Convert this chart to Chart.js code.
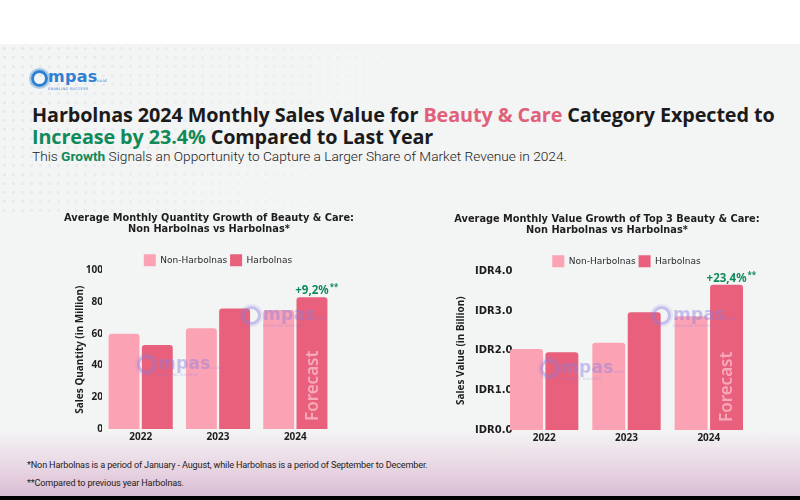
<!DOCTYPE html>
<html>
<head>
<meta charset="utf-8">
<script src="https://cdn.jsdelivr.net/npm/chart.js@4.4.1/dist/chart.umd.min.js"></script>
<style>
  html, body { margin: 0; padding: 0; }
  body {
    width: 800px; height: 500px; position: relative; overflow: hidden;
    background: #fff; font-family: 'Noto Sans', sans-serif; color: #1e1e1e;
  }
  #panel {
    position: absolute; left: 0; top: 44px; width: 800px; height: 452px;
    background: linear-gradient(to bottom, #f3f4f4 0px, #f3f4f4 386px, #ead9e5 420px, #d9bdd4 452px);
  }
  #dots {
    position: absolute; left: 0; top: 44px; width: 520px; height: 170px;
    background-image: radial-gradient(circle, #e4e7ea 1.2px, transparent 1.7px);
    background-size: 9px 9px;
    -webkit-mask-image: linear-gradient(120deg, #000 0%, rgba(0,0,0,0.5) 40%, transparent 75%);
    mask-image: linear-gradient(120deg, #000 0%, rgba(0,0,0,0.5) 40%, transparent 75%);
  }
  #bottomBar { position: absolute; left: 0; top: 496px; width: 800px; height: 4px; background: #000; }
  .logo { position: absolute; color: #2f80d2; font-family: 'DejaVu Sans', sans-serif; }
  .logo .ring {
    position: absolute; left: 0; top: 0; width: 11px; height: 11px; border-radius: 50%;
    border: 3px solid #2f80d2; box-shadow: 0 0 0 2px rgba(47,128,210,0.35);
  }
  .logo .word { position: absolute; left: 17px; top: -3px; font-size: 16px; font-weight: bold; letter-spacing: 0.3px; }
  .logo .tld { position: absolute; left: 66px; top: 8px; font-size: 4px; }
  .logo .tag { position: absolute; left: 17px; top: 17px; font-size: 3.5px; letter-spacing: 0.3px; white-space: nowrap; }
  .wm { opacity: 0.45; color: #8a7fe0; }
  .wm .ring { width: 13px; height: 13px; border-width: 3.5px; border-color: #8a7fe0; box-shadow: 0 0 0 2px rgba(138,127,224,0.3); }
  .wm .word { left: 21px; top: -2px; font-size: 17px; }
  .wm .tld { left: 74px; top: 10px; }
  .wm .tag { left: 21px; top: 18px; }
  #title {
    position: absolute; left: 32px; top: 104px; margin: 0;
    font-family: 'Open Sans', sans-serif; font-weight: 700; font-size: 19.8px; line-height: 22px;
    letter-spacing: -0.1px; color: #1b1b1b; white-space: nowrap;
  }
  #subtitle {
    position: absolute; left: 32px; top: 148px; margin: 0;
    font-family: 'Roboto', sans-serif; font-size: 13.7px; font-weight: 300; color: #1b1b1b; white-space: nowrap;
  }
  .pink { color: #e0607a; }
  .green { color: #0f8a5a; }
  #subtitle .green { font-weight: 700; }
  .notes {
    position: absolute; left: 27px; margin: 0; font-family: 'Roboto', sans-serif;
    font-size: 9.1px; color: #222; white-space: nowrap; letter-spacing: -0.15px;
  }
  .box { position: absolute; }
</style>
</head>
<body>
<div id="panel"></div>
<div id="dots"></div>
<div id="bottomBar"></div>

<div class="logo" style="left:31px; top:70px;">
  <div class="ring"></div>
  <div class="word">mpas</div>
  <div class="tld">co.id</div>
  <div class="tag">ENABLING SUCCESS</div>
</div>

<h1 id="title">Harbolnas 2024 Monthly Sales Value for <span class="pink">Beauty &amp; Care</span> Category Expected to<br><span class="green">Increase by 23.4%</span> Compared to Last Year</h1>
<p id="subtitle">This <span class="green">Growth</span> Signals an Opportunity to Capture a Larger Share of Market Revenue in 2024.</p>

<div class="box" style="left:55px; top:205px; width:310px; height:240px;"><canvas id="qtyChart"></canvas></div>
<div class="box" style="left:445px; top:206px; width:330px; height:240px;"><canvas id="valueChart"></canvas></div>

<div class="logo wm" style="left:137px; top:355px;"><div class="ring"></div><div class="word">mpas</div><div class="tld">co.id</div><div class="tag">ENABLING SUCCESS</div></div>
<div class="logo wm" style="left:242px; top:306px;"><div class="ring"></div><div class="word">mpas</div><div class="tld">co.id</div><div class="tag">ENABLING SUCCESS</div></div>
<div class="logo wm" style="left:540px; top:359px;"><div class="ring"></div><div class="word">mpas</div><div class="tld">co.id</div><div class="tag">ENABLING SUCCESS</div></div>
<div class="logo wm" style="left:652px; top:306px;"><div class="ring"></div><div class="word">mpas</div><div class="tld">co.id</div><div class="tag">ENABLING SUCCESS</div></div>

<p class="notes" style="top:460px;">*Non Harbolnas is a period of January - August, while Harbolnas is a period of September to December.</p>
<p class="notes" style="top:478px;">**Compared to previous year Harbolnas.</p>

<script>
// chart data
const years = ['2022', '2023', '2024'];
const seriesNames = ['Non-Harbolnas', 'Harbolnas'];

const qtyNon = [60, 63.5, 75];
const qtyHarb = [53, 76, 83];
const qtyTicks = [0, 20, 40, 60, 80, 100];

const valueNon = [2.04, 2.2, 2.87];
const valueHarb = [1.96, 2.97, 3.66];
const valueTicks = [0, 1, 2, 3, 4];

const growthLabels = ['+9,2%', '+23,4%'];

const lightPink = '#fba2b4';
const darkPink = '#e8607b';
const green = '#0f8a5a';
const textColor = '#1e1e1e';
const fontFamily = "'Noto Sans', sans-serif";
const wideFont = "'DejaVu Sans', sans-serif";

// title spans (nearly) the whole canvas so it is not squeezed, legend is centred over the plot
const headerBoxes = {
  id: 'headerBoxes',
  afterLayout(chart, args, opts) {
    chart.titleBlock.left = opts.titleLeft;
    chart.titleBlock.right = chart.width - opts.titleRight;
    chart.legend.left = chart.chartArea.left;
    chart.legend.right = chart.chartArea.right;
  }
};

// growth label above the forecast bar and the vertical "Forecast" word inside it
const forecastNotes = {
  id: 'forecastNotes',
  afterDatasetsDraw(chart, args, opts) {
    const ctx = chart.ctx;
    const bar = chart.getDatasetMeta(1).data[2];
    ctx.save();
    ctx.fillStyle = green;
    ctx.font = 'bold 11.5px ' + fontFamily;
    ctx.textAlign = 'center';
    ctx.textBaseline = 'alphabetic';
    ctx.fillText(opts.label, bar.x, bar.y - 3);
    const w = ctx.measureText(opts.label).width;
    ctx.font = 'bold 8px ' + fontFamily;
    ctx.textAlign = 'left';
    ctx.fillText('**', bar.x + w / 2 + 1, bar.y - 7);

    ctx.translate(bar.x, bar.base - 8);
    ctx.rotate(-Math.PI / 2);
    ctx.fillStyle = '#f7a9b9';
    ctx.font = '600 17px ' + fontFamily;
    ctx.textAlign = 'left';
    ctx.textBaseline = 'middle';
    ctx.fillText('Forecast', 0, 1);
    ctx.restore();
  }
};

function makeChart(id, cfg) {
  return new Chart(document.getElementById(id), {
    type: 'bar',
    data: {
      labels: years,
      datasets: [
        { label: seriesNames[0], data: cfg.non, backgroundColor: lightPink, borderRadius: 3 },
        { label: seriesNames[1], data: cfg.harb, backgroundColor: darkPink, borderRadius: 3 }
      ]
    },
    options: {
      responsive: true,
      maintainAspectRatio: false,
      animation: false,
      categoryPercentage: 0.86,
      barPercentage: 0.93,
      layout: { padding: { top: 7, right: cfg.padRight, left: cfg.padLeft, bottom: 0 } },
      plugins: {
        title: {
          display: true,
          text: cfg.title,
          color: textColor,
          font: { size: 9.8, family: wideFont, weight: 'bold', lineHeight: 1.12 },
          padding: { top: 1, bottom: 16.4 }
        },
        legend: {
          position: 'top',
          maxHeight: 19,
          labels: {
            color: '#2a2a2a',
            boxWidth: 12,
            boxHeight: 12,
            padding: 3,
            font: { size: 9, family: wideFont }
          }
        },
        tooltip: { enabled: false },
        headerBoxes: { titleLeft: cfg.titleLeft, titleRight: cfg.titleRight },
        forecastNotes: { label: cfg.growth }
      },
      scales: {
        x: {
          grid: { display: false, drawTicks: false },
          border: { display: false },
          ticks: { color: textColor, font: { size: 10, family: fontFamily, weight: 'bold' }, padding: 2 }
        },
        y: {
          min: cfg.ticks[0],
          max: cfg.ticks[cfg.ticks.length - 1],
          afterFit: (scale) => { scale.width = cfg.yWidth; },
          afterBuildTicks: (scale) => { scale.ticks = cfg.ticks.map(v => ({ value: v })); },
          grid: { display: false, drawTicks: false },
          border: { display: false },
          title: { display: true, text: cfg.yTitle, color: textColor, font: { size: 10, family: fontFamily, weight: 'bold' }, padding: 2 },
          ticks: {
            color: textColor, font: { size: 10, family: cfg.tickFont, weight: 'bold' }, callback: cfg.fmt,
            mirror: cfg.mirror, crossAlign: cfg.mirror ? 'far' : 'near', padding: cfg.tickPad
          }
        }
      }
    },
    plugins: [headerBoxes, forecastNotes]
  });
}

makeChart('qtyChart', {
  title: ['Average Monthly Quantity Growth of Beauty & Care:', 'Non Harbolnas vs Harbolnas*'],
  non: qtyNon, harb: qtyHarb, ticks: qtyTicks,
  yTitle: 'Sales Quantity (in Million)', fmt: v => v, growth: growthLabels[0],
  padLeft: 17, padRight: 31, yWidth: 30, tickPad: -1, tickFont: fontFamily, mirror: false,
  titleLeft: 0, titleRight: 2
});

// the IDR labels reach a little into the plot, so they are mirrored and pulled back left
makeChart('valueChart', {
  title: ['Average Monthly Value Growth of Top 3 Beauty & Care:', 'Non Harbolnas vs Harbolnas*'],
  non: valueNon, harb: valueHarb, ticks: valueTicks,
  yTitle: 'Sales Value (in Billion)', fmt: v => 'IDR' + Number(v).toFixed(1), growth: growthLabels[1],
  padLeft: 8, padRight: 25, yWidth: 50, tickPad: -28, tickFont: wideFont, mirror: true,
  titleLeft: 0, titleRight: 6
});
</script>
</body>
</html>
